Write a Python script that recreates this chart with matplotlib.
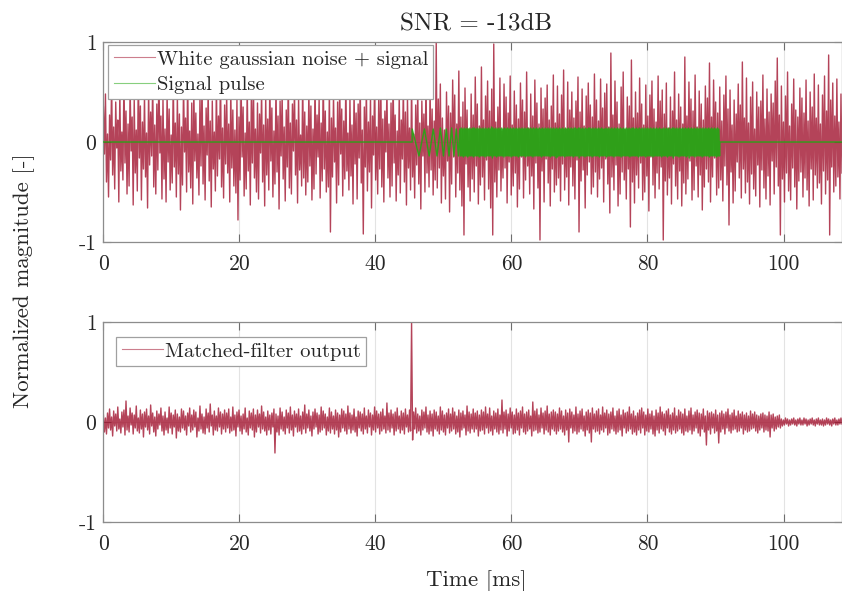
import numpy as np
import matplotlib
matplotlib.use("Agg")
import matplotlib.pyplot as plt

plt.rcParams['font.family'] = ['cmr10', 'DejaVu Serif']
plt.rcParams['axes.unicode_minus'] = False
plt.rcParams['mathtext.fontset'] = 'cm'

# ---------------- data (in hundredths) ----------------
T_END = 108.6  # ms, right edge of the axes

noise_top = [
    35,-12,48,-40,8,-55,27,-18,62,-33,15,-47,40,-6,22,-60,51,-29,10,-38,66,-21,31,-52,18,-44,57,-9,25,-63,43,-31,12,-49,70,-16,36,-58,20,-27,
    47,-35,9,-66,54,-23,30,-14,61,-45,17,-52,38,-28,72,-11,26,-57,44,-37,13,-60,50,-20,33,-48,7,-41,64,-25,19,-55,46,-32,28,-68,15,-43,58,-10,
    24,-50,67,-30,11,-46,39,-62,55,-19,29,-36,8,-53,45,-24,63,-42,16,-58,34,-13,52,-39,21,-65,41,-27,10,-49,59,-34,26,-17,69,-45,14,-56,37,-22,
    48,-31,18,-60,53,-26,32,-44,12,-51,42,-78,25,-38,61,-15,35,-54,9,-47,56,-29,20,-63,44,-21,66,-36,13,-50,39,-57,28,-11,51,-40,17,-64,46,-33,
    23,-48,60,-19,34,-55,11,-42,57,-30,26,-67,41,-14,49,-37,15,-59,32,-25,65,-46,19,-52,38,-9,54,-33,22,-61,45,-28,7,-44,63,-36,30,-53,16,-40,
    52,-24,36,-58,13,-47,62,-32,27,-15,43,-56,19,-39,68,-27,31,-50,10,-45,55,-90,24,-35,47,-20,14,-61,40,-43,58,-12,33,-54,21,-37,64,-29,9,-48,
    44,-34,17,-62,50,-22,29,-57,38,-16,61,-41,12,-92,35,-25,56,-49,20,-30,46,-66,26,-13,59,-38,15,-52,42,-27,67,-45,23,-60,31,-10,53,-36,18,-55,
    39,-44,64,-21,27,-59,11,-33,48,-51,22,-17,57,-40,30,-63,45,-26,14,-48,60,-35,8,-56,37,-23,52,-42,19,-67,41,-14,28,-50,66,-31,16,-45,55,-28,
    33,-53,21,-38,100,-46,43,-26,58,-61,24,-34,12,-57,50,-19,36,-70,29,-42,62,-15,47,-55,18,-31,71,-48,25,-64,40,-93,54,-22,32,-45,13,-59,48,-37,
    27,-50,65,-24,38,-62,16,-43,75,-35,22,-58,46,-18,61,-47,31,-66,53,-93,98,-40,20,-55,35,-28,64,-49,11,-36,58,-26,45,-61,29,-20,66,-53,17,-44,
    51,-31,37,-65,23,-47,59,-15,42,-56,30,-38,70,-24,14,-52,48,-34,26,-67,62,-21,39,-46,18,-98,54,-29,33,-60,44,-17,57,-41,22,-64,36,-27,67,-50,
    19,-43,56,-36,28,-59,47,-22,72,-48,13,-35,60,-63,32,-25,50,-44,24,-57,41,-18,65,-90,30,-39,53,-28,16,-66,46,-33,59,-20,37,-52,25,-45,68,-30,
    42,-55,21,-37,63,-26,34,-60,49,-17,58,-42,15,-71,89,-35,27,-48,61,-23,40,-64,18,-52,55,-30,70,-38,12,-57,45,-27,36,-85,82,-40,24,-61,50,-33,
    29,-46,64,-21,38,-58,17,-50,57,-34,26,-69,47,-15,61,-43,33,-56,20,-31,66,-47,41,-25,52,-98,28,-39,59,-53,14,-36,45,-62,31,-22,70,-44,22,-57,
    48,-29,35,-64,18,-41,85,-52,26,-37,60,-19,43,-58,31,-48,67,-24,15,-55,51,-33,38,-68,22,-45,56,-27,44,-40,79,-60,25,-35,62,-16,40,-53,29,-46,
    55,-38,21,-59,47,-24,66,-43,33,-83,52,-30,17,-61,42,-49,28,-20,58,-36,37,-56,80,-27,24,-51,64,-40,19,-62,45,-32,60,-47,13,-54,50,-23,35,-65,
    41,-28,67,-46,23,-57,53,-34,30,-63,48,-19,39,-52,61,-25,84,-44,27,-93,56,-37,20,-60,46,-31,70,-49,16,-58,38,-26,63,-45,32,-67,25,-39,54,-30,
    44,-55,29,-36,62,-48,21,-64,50,-27,35,-58,68,-33,24,-46,57,-41,18,-62,47,-29,66,-52,31,-38,87,-93,42,-25,59,-50,26,-44,63,-35,20,-57,48,-31,
]

pulse_head_t = [0.0, 45.4, 45.4, 46.4, 47.2, 47.9, 48.5, 49.05, 49.55, 50.0, 50.42, 50.82, 51.2, 51.55, 51.88, 52.2]
pulse_head_v = [0, 0, 13, -14, 13, -14, 13, -14, 14, -14, 13, -14, 14, -14, 13, -14]
pulse_dense_span = [52.4, 90.6]
pulse_dense_v = [
    13,-14,14,-14,13,-15,14,-14,13,-14,14,-15,13,-14,14,-14,13,-14,14,-15,14,-14,13,-14,14,-14,13,-15,14,-14,13,-14,14,-14,13,-15,14,-14,13,-14,
    14,-14,13,-14,15,-16,14,-14,13,-14,14,-15,13,-14,14,-14,13,-14,14,-14,13,-15,14,-14,13,-14,14,-14,13,-14,14,-15,13,-14,14,-14,13,-14,14,-14,
    13,-15,14,-14,13,-14,14,-14,13,-14,14,-15,13,-14,14,-14,13,-14,14,-14,13,-15,14,-14,13,-14,14,-14,13,-14,14,-14,13,-15,14,-14,13,-14,14,-14,
    13,-14,14,-14,13,-15,14,-14,13,-14,14,-14,13,-16,14,-15,13,-14,14,-14,13,-14,14,-14,13,-15,14,-14,13,-14,14,-14,13,-14,14,-14,13,-15,14,-14,
    14,-14,13,-14,14,-16,14,-14,13,-14,14,-14,13,-15,14,-14,13,-14,14,-14,14,-14,13,-15,14,-14,13,-14,14,-14,13,-14,14,-15,13,-14,14,-14,13,-14,
    13,-14,14,-15,13,-14,14,-14,13,-14,14,-14,13,-15,14,-14,13,-14,14,-14,13,-14,14,-15,13,-14,14,-14,13,-14,14,-14,13,-14,14,-15,13,-14,14,-14,
    14,-14,13,-14,14,-14,13,-15,14,-14,13,-14,14,-14,13,-14,14,-15,13,-14,14,-14,13,-14,14,-14,13,-15,14,-14,13,-14,14,-14,13,-14,14,-14,13,-15,
    13,-14,14,-14,13,-14,14,-15,13,-14,14,-14,13,-14,14,-16,14,-14,13,-14,14,-14,13,-15,14,-14,13,-14,14,-14,13,-14,14,-15,13,-14,14,-16,13,-14,
    14,-14,13,-14,14,-15,13,-14,14,-14,13,-14,14,-14,13,-15,14,-14,13,-14,14,-14,13,-14,14,-15,13,-14,14,-14,13,-14,14,-14,13,-15,14,-14,13,-14,
]
pulse_tail_t = [90.65, 108.6]
pulse_tail_v = [0, 0]

mf_output = [
    7,-10,4,-12,9,-6,13,-8,5,-14,11,-4,8,-9,15,-7,3,-11,10,-5,12,-13,21,-8,6,-10,14,-3,9,-12,7,-6,16,-9,4,-11,12,-7,8,-15,
    10,-5,13,-8,6,-12,17,-4,9,-10,5,-14,11,-7,8,-3,14,-9,6,-13,10,-8,4,-11,15,-6,9,-12,7,-5,12,-16,8,-9,5,-10,13,-6,11,-8,
    6,-13,9,-4,14,-10,7,-8,12,-5,10,-15,4,-9,16,-7,8,-11,5,-12,13,-6,9,-10,18,-4,7,-13,11,-8,6,-9,14,-5,10,-12,8,-7,12,-10,
    9,-6,13,-11,5,-9,15,-8,7,-14,10,-5,12,-9,6,-12,8,-7,14,-10,4,-13,11,-6,9,-8,13,-15,7,-10,12,-5,8,-11,16,-7,10,-9,5,-13,
    11,-8,7,-12,9,-5,13,-31,8,-10,6,-13,14,-7,10,-9,5,-12,12,-6,9,-11,15,-8,7,-14,11,-5,8,-10,13,-9,6,-12,10,-7,17,-11,8,-6,
    12,-9,6,-14,10,-7,13,-5,9,-12,7,-10,15,-8,11,-6,8,-13,5,-9,14,-11,10,-7,6,-12,12,-8,9,-15,7,-10,13,-6,11,-9,8,-12,16,-7,
    9,-11,7,-8,13,-10,5,-14,11,-6,10,-9,8,-12,14,-7,6,-11,12,-5,9,-13,7,-8,15,-10,11,-6,8,-12,10,-9,13,-7,6,-11,19,-8,9,-10,
    12,-6,8,-13,10,-9,14,-7,6,-11,11,-8,9,-12,13,-5,7,-10,12,-9,100,-18,10,-7,14,-11,8,-9,6,-13,12,-8,10,-6,15,-10,7,-12,11,-9,
    8,-14,12,-7,10,-9,6,-12,15,-8,11,-10,7,-13,9,-6,13,-11,8,-9,14,-7,10,-12,6,-10,12,-15,9,-8,11,-6,7,-13,16,-9,10,-11,8,-7,
    13,-10,9,-7,11,-14,7,-9,12,-8,10,-12,15,-6,8,-11,14,-9,6,-13,11,-7,9,-10,13,-12,7,-8,22,-11,10,-7,12,-14,8,-9,14,-6,10,-12,
    7,-11,13,-8,9,-13,11,-6,15,-10,8,-12,10,-9,12,-7,6,-14,20,-9,11,-8,13,-11,7,-10,14,-6,9,-12,11,-8,16,-10,8,-13,10,-7,12,-9,
    10,-12,8,-9,14,-7,11,-10,6,-13,12,-8,9,-20,13,-6,10,-11,7,-9,15,-12,8,-10,11,-7,13,-9,6,-14,10,-8,12,-11,9,-20,14,-7,8,-10,
    11,-9,13,-12,7,-8,15,-10,9,-6,12,-13,8,-11,10,-7,14,-9,6,-12,11,-10,13,-8,7,-14,12,-6,9,-11,10,-9,15,-7,8,-12,11,-10,6,-13,
    9,-8,12,-11,14,-6,10,-13,7,-9,13,-10,8,-7,11,-12,6,-14,12,-8,9,-11,15,-7,10,-9,8,-13,11,-6,13,-10,7,-12,9,-8,14,-11,6,-9,
    12,-7,10,-11,8,-13,13,-9,6,-10,11,-8,14,-12,7,-9,10,-6,12,-11,9,-14,8,-7,13,-10,6,-23,11,-8,9,-12,10,-6,8,-11,12,-9,7,-21,
    9,-10,11,-7,8,-12,10,-6,13,-9,7,-11,9,-8,12,-7,6,-10,11,-9,8,-6,10,-12,7,-8,9,-10,6,-9,11,-7,8,-6,10,-9,7,-11,6,-8,
    8,-6,9,-10,7,-8,6,-9,10,-15,7,-6,8,-9,5,-7,6,-5,7,-6,3,-4,2,-3,4,-2,3,-4,2,-3,3,-2,4,-3,2,-4,3,-2,4,-3,
    2,-3,4,-2,3,-4,2,-3,3,-2,4,-3,2,-4,3,-2,4,-3,2,-3,3,-4,2,-3,4,-2,3,-3,2,-4,3,-2,4,-3,2,-3,3,-2,4,-2,
]

x_ticks = [0, 20, 40, 60, 80, 100]
y_ticks = [-1, 0, 1]
y_ticklabels = ['-1', '0', '1']
title_text = 'SNR = -13dB'
ylabel_text = 'Normalized magnitude [-]'
xlabel_text = 'Time [ms]'
legend_top = ['White gaussian noise + signal', 'Signal pulse']
legend_bottom = ['Matched-filter output']

# ---------------- styling ----------------
RED = '#A2142F'
GREEN = '#24A814'
SPINE = '#8c8c8c'
TXT = '#262626'

W, H = 842, 591
fig = plt.figure(figsize=(W / 100, H / 100), dpi=100)

def px_axes(l, t, r, b):
    return fig.add_axes([l / W, 1 - b / H, (r - l) / W, (b - t) / H])

ax1 = px_axes(103.4, 42, 842, 242)
ax2 = px_axes(103.4, 322, 842, 522)

t_top = np.linspace(0, T_END, len(noise_top))
y_top = np.array(noise_top) / 100.0
t_mf = np.linspace(0, T_END, len(mf_output))
y_mf = np.array(mf_output) / 100.0

t_dense = np.linspace(pulse_dense_span[0], pulse_dense_span[1], len(pulse_dense_v))
t_pulse = np.concatenate([pulse_head_t, t_dense, pulse_tail_t])
y_pulse = np.concatenate([pulse_head_v, pulse_dense_v, pulse_tail_v]) / 100.0

ax1.plot(t_top, y_top, color=RED, lw=1.0, alpha=0.8, label=legend_top[0], zorder=2)
ax1.plot(t_pulse, y_pulse, color=GREEN, lw=1.0, alpha=0.92, label=legend_top[1], zorder=3)
ax2.plot(t_mf, y_mf, color=RED, lw=1.0, alpha=0.8, label=legend_bottom[0], zorder=2)

for ax in (ax1, ax2):
    ax.set_xlim(0, T_END)
    ax.set_ylim(-1, 1)
    ax.set_xticks(x_ticks)
    ax.set_xticklabels([str(v) for v in x_ticks])
    ax.set_yticks(y_ticks)
    ax.set_yticklabels(y_ticklabels)
    ax.grid(True, color='#e3e3e3', lw=0.8)
    ax.set_axisbelow(True)
    for s in ax.spines.values():
        s.set_color(SPINE)
        s.set_linewidth(0.9)
    ax.tick_params(direction='in', length=6, width=0.8, color='#6e6e6e',
                   top=True, right=True, labelsize=15.5, labelcolor=TXT)
    ax.tick_params(axis='x', pad=9)
    ax.tick_params(axis='y', pad=5)

leg_kw = dict(fontsize=14.8, fancybox=False, framealpha=1, edgecolor='#a0a0a0',
              borderaxespad=0, handlelength=2.0, handletextpad=0.1,
              borderpad=0.25, labelspacing=0.34, loc='upper left')
l1 = ax1.legend(bbox_to_anchor=(0.0068, 0.985), **leg_kw)
l2 = ax2.legend(bbox_to_anchor=(0.0176, 0.925), **leg_kw)
for l in (l1, l2):
    l.get_frame().set_linewidth(0.9)
    for t in l.get_texts():
        t.set_color(TXT)
    for ln in l.get_lines():
        ln.set_linewidth(0.8)
        ln.set_alpha(0.55)

fig.text(476 / W, 1 - 30.7 / H, title_text, ha='center', va='baseline',
         fontsize=18, color=TXT)
fig.text(24 / W, 1 - 281 / H, ylabel_text, rotation=90, ha='center', va='center',
         fontsize=16.5, color=TXT)
fig.text(476 / W, 1 - 581 / H, xlabel_text, ha='center', va='center',
         fontsize=16.5, color=TXT)

fig.savefig('out.png', dpi=100)
